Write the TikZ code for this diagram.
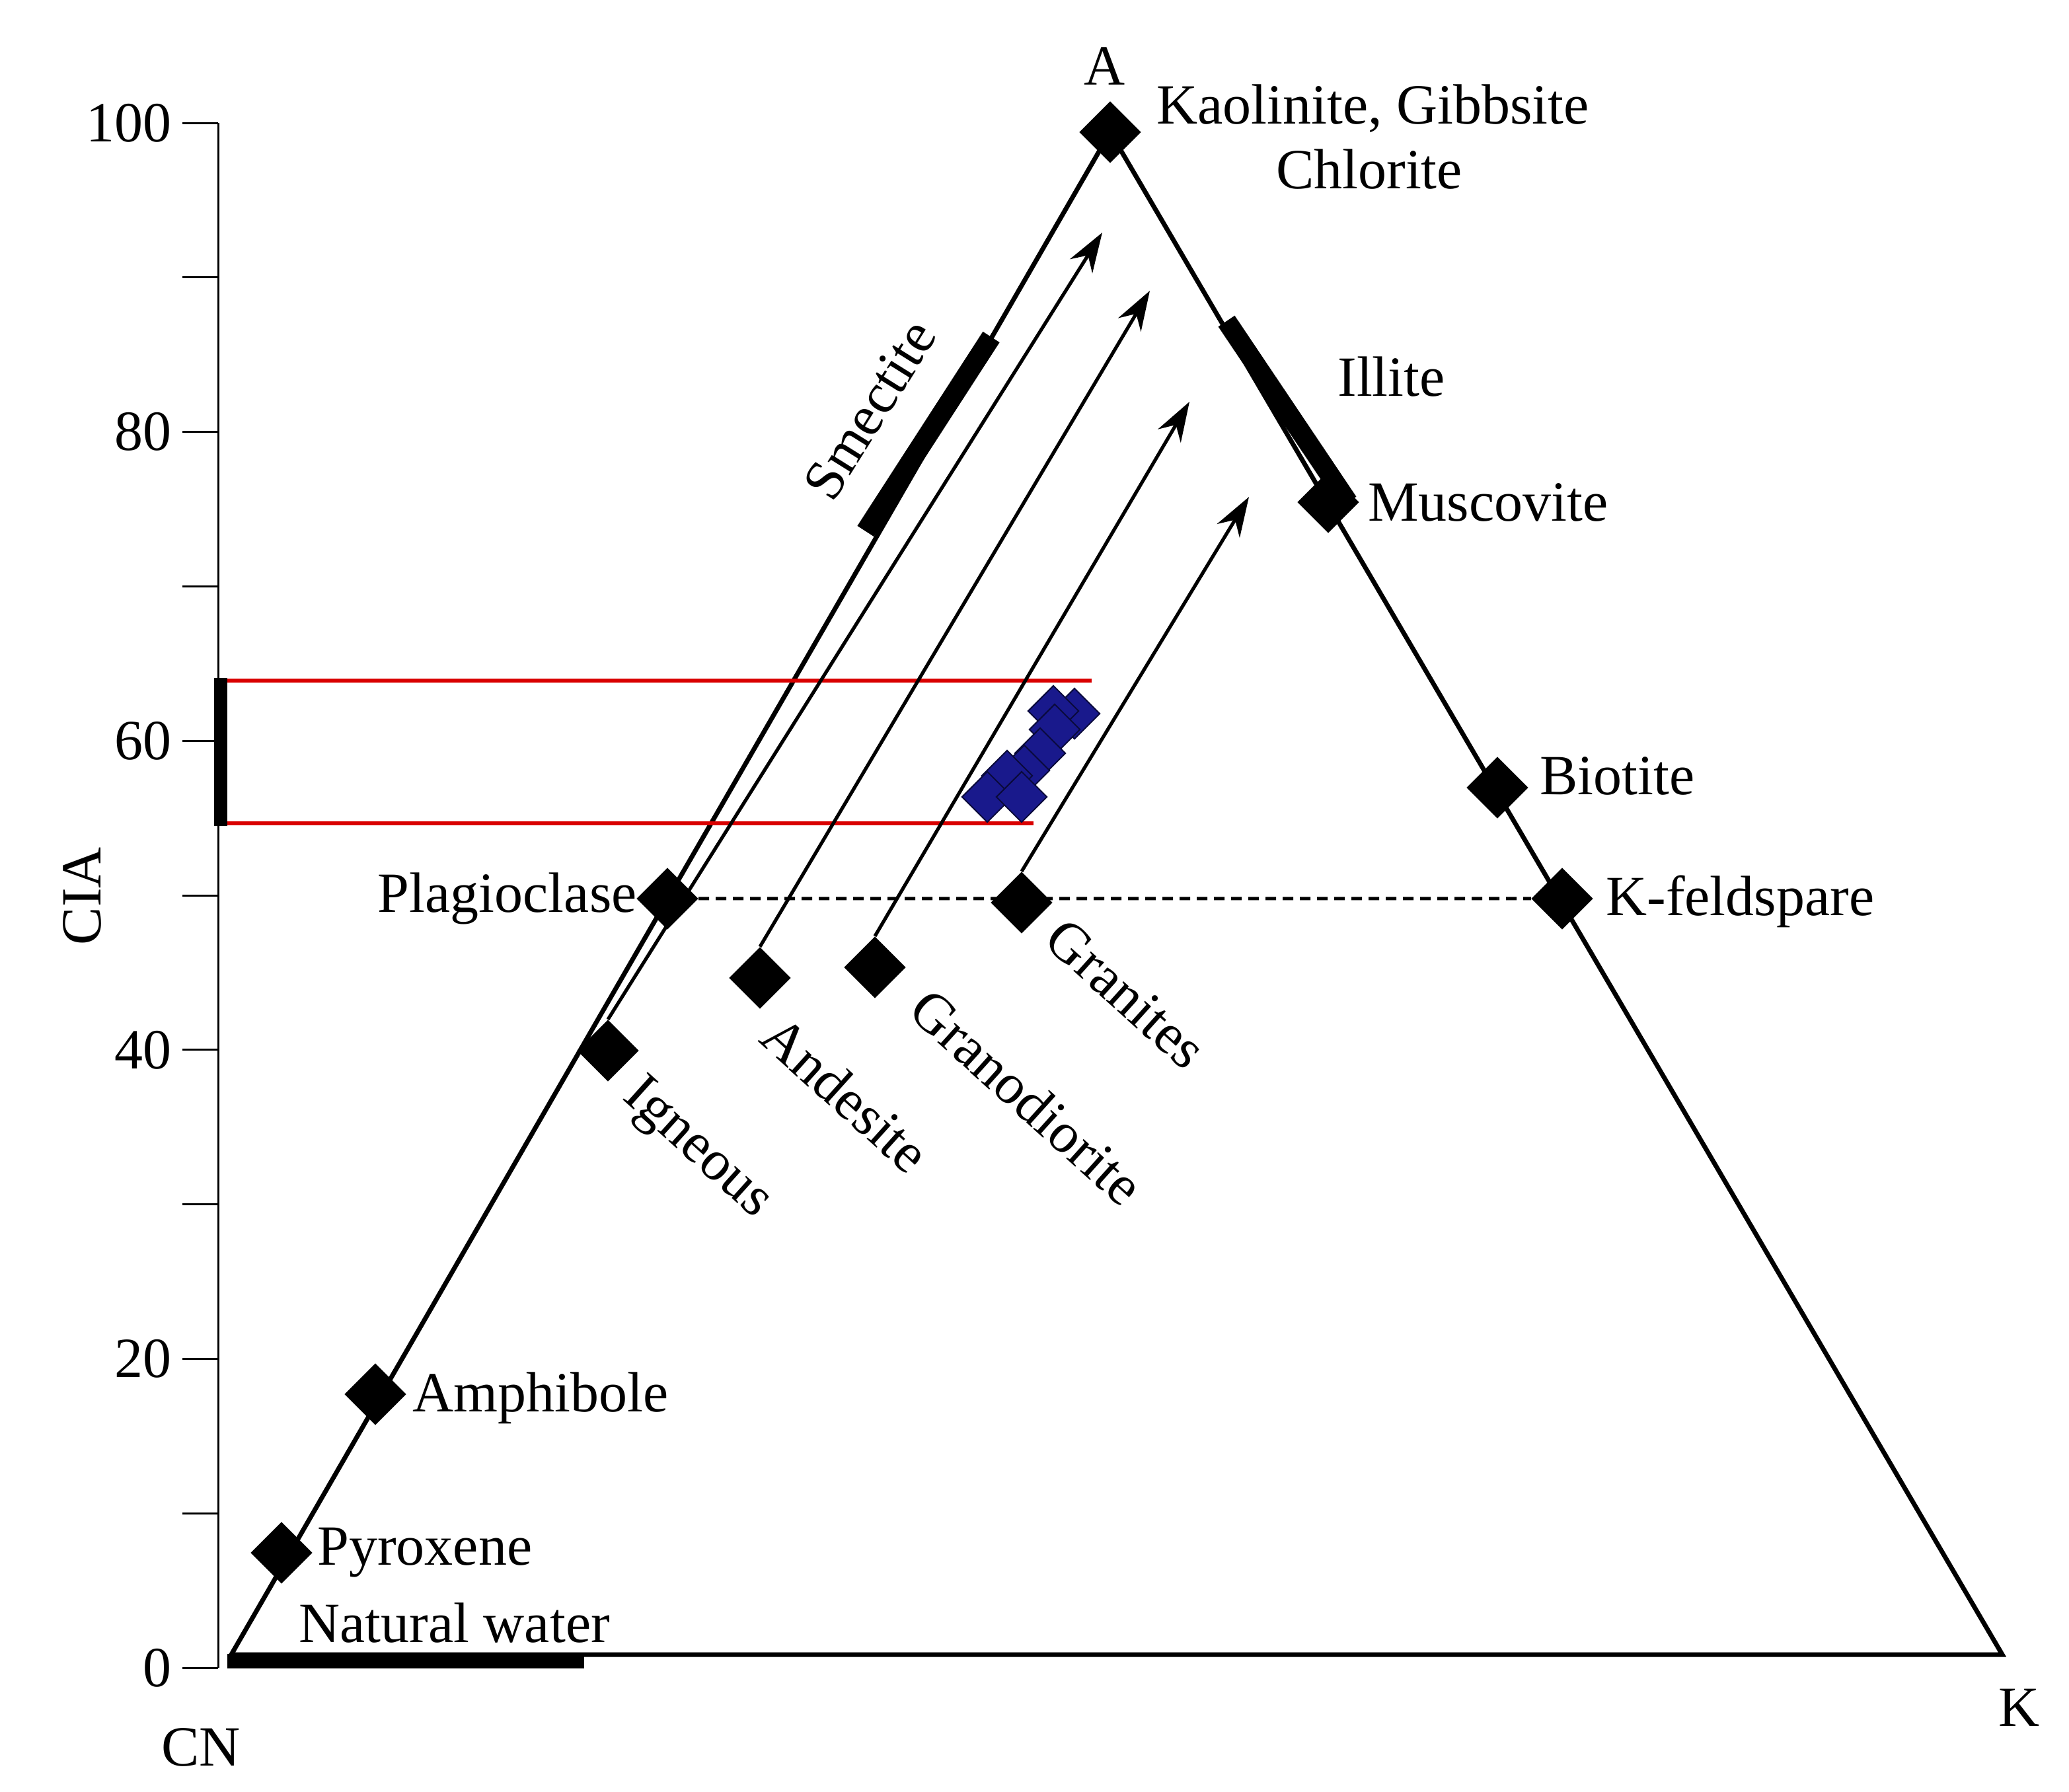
\documentclass[tikz,border=0pt]{standalone}
\usepackage{fontspec}
\setmainfont{Liberation Serif}
\usetikzlibrary{arrows.meta}
\begin{document}
\begin{tikzpicture}[x=1pt,y=-1pt,
  dia/.style={fill=black,draw=none,minimum size=33pt,inner sep=0pt,rotate=45,rectangle},
  bdia/.style={fill={rgb,255:red,25;green,25;blue,140},draw={rgb,255:red,10;green,10;blue,60},line width=1pt,minimum size=27pt,inner sep=0pt,rotate=45,rectangle},
  lab/.style={font=\fontsize{43}{49}\selectfont,inner sep=2pt},
  ln/.style={line width=3.5pt},
  arr/.style={line width=2.6pt,-{Stealth[length=30pt,width=20pt]}},
  bar/.style={line width=15pt}]
\useasboundingbox (0,0) rectangle (1565.5,1355.5);
% axis
\draw[line width=1.5pt] (165,93) -- (165,1262);
\foreach \i in {0,...,10}{\draw[line width=1.5pt] (165,{1262-\i*116.9}) -- (138,{1262-\i*116.9});}
\foreach \v/\i in {0/0,20/2,40/4,60/6,80/8,100/10}{\node[lab,anchor=east] (t\v) at (132,{1262-\i*116.9}) {\v};}
\node[lab,rotate=90] (cia) at (62,678) {CIA};
% triangle
\coordinate (CN) at (175,1252); \coordinate (Av) at (840,100); \coordinate (Kv) at (1515,1252);
\draw[ln,line join=miter] (CN) -- (Av) -- (Kv) -- cycle;
\node[lab] (lA) at (836,50) {A};
\node[lab] (lCN) at (152,1322) {CN};
\node[lab] (lK) at (1528,1292) {K};
% bars
\coordinate (s1) at (655,402); \coordinate (s2) at (750,255);
\draw[bar] (s1) -- (s2);
\coordinate (i1) at (928,243); \coordinate (i2) at (1020,380);
\draw[bar] (i1) -- (i2);
\coordinate (w1) at (172,1257); \coordinate (w2) at (442,1257);
\draw[line width=11pt] (w1) -- (w2);
% red box
\coordinate (r1) at (170,515); \coordinate (r2) at (826,515);
\coordinate (r3) at (170,623); \coordinate (r4) at (782,623);
\draw[red!85!black,line width=2.8pt] (r1) -- (r2);
\draw[red!85!black,line width=2.8pt] (r3) -- (r4);
\draw[line width=10pt] (167,513) -- (167,625);
% dashed
\node[dia] (plag) at (505,680) {};
\node[dia] (kfel) at (1182,680) {};
\draw[line width=2.4pt,dash pattern=on 8pt off 5pt] (plag) -- (kfel);
% diamonds
\node[dia] (kao) at (840,100) {};
\node[dia] (mus) at (1005,380) {};
\node[dia] (bio) at (1133,596) {};
\node[dia] (ign) at (460,795) {};
\node[dia] (and) at (575,740) {};
\node[dia] (gra) at (662,732) {};
\node[dia] (grn) at (773,683) {};
\node[dia] (amp) at (284,1055) {};
\node[dia] (pyr) at (213,1175) {};
% arrows
\coordinate (e1) at (834,176); \coordinate (e2) at (870,220);
\coordinate (e3) at (900,304); \coordinate (e4) at (945,376);
\draw[arr] (ign.north east) -- (e1);
\draw[arr] (and.north east) -- (e2);
\draw[arr] (gra.north east) -- (e3);
\draw[arr] (grn.north east) -- (e4);
% blue samples
\foreach \x/\y [count=\n] in {813/540,797/538,798/552,787/570,775/583,762/587,747/603,773/603}{\node[bdia] (b\n) at (\x,\y) {};}
% labels
\node[lab,anchor=west] (tk) at (873,82) {Kaolinite, Gibbsite};
\node[lab] (tc) at (1036,128) {Chlorite};
\node[lab,anchor=west] (til) at (1010,285) {Illite};
\node[lab,anchor=west] (tmu) at (1033,380) {Muscovite};
\node[lab,anchor=west] (tbi) at (1163,587) {Biotite};
\node[lab,anchor=west] (tkf) at (1213,682) {K-feldspare};
\node[lab,anchor=east] (tpl) at (484,680) {Plagioclase};
\node[lab,anchor=west] (tam) at (310,1058) {Amphibole};
\node[lab,anchor=west] (tpy) at (238,1175) {Pyroxene};
\node[lab,anchor=west] (tnw) at (224,1228) {Natural water};
\node[lab,rotate=58] (tsm) at (658,310) {Smectite};
\node[lab,rotate=-42] (tig) at (527,870) {Igneous};
\node[lab,rotate=-42] (tan) at (640,828) {Andesite};
\node[lab,rotate=-42] (tgd) at (777,830) {Granodiorite};
\node[lab,rotate=-42] (tgr) at (852,752) {Granites};
\end{tikzpicture}
\end{document}
